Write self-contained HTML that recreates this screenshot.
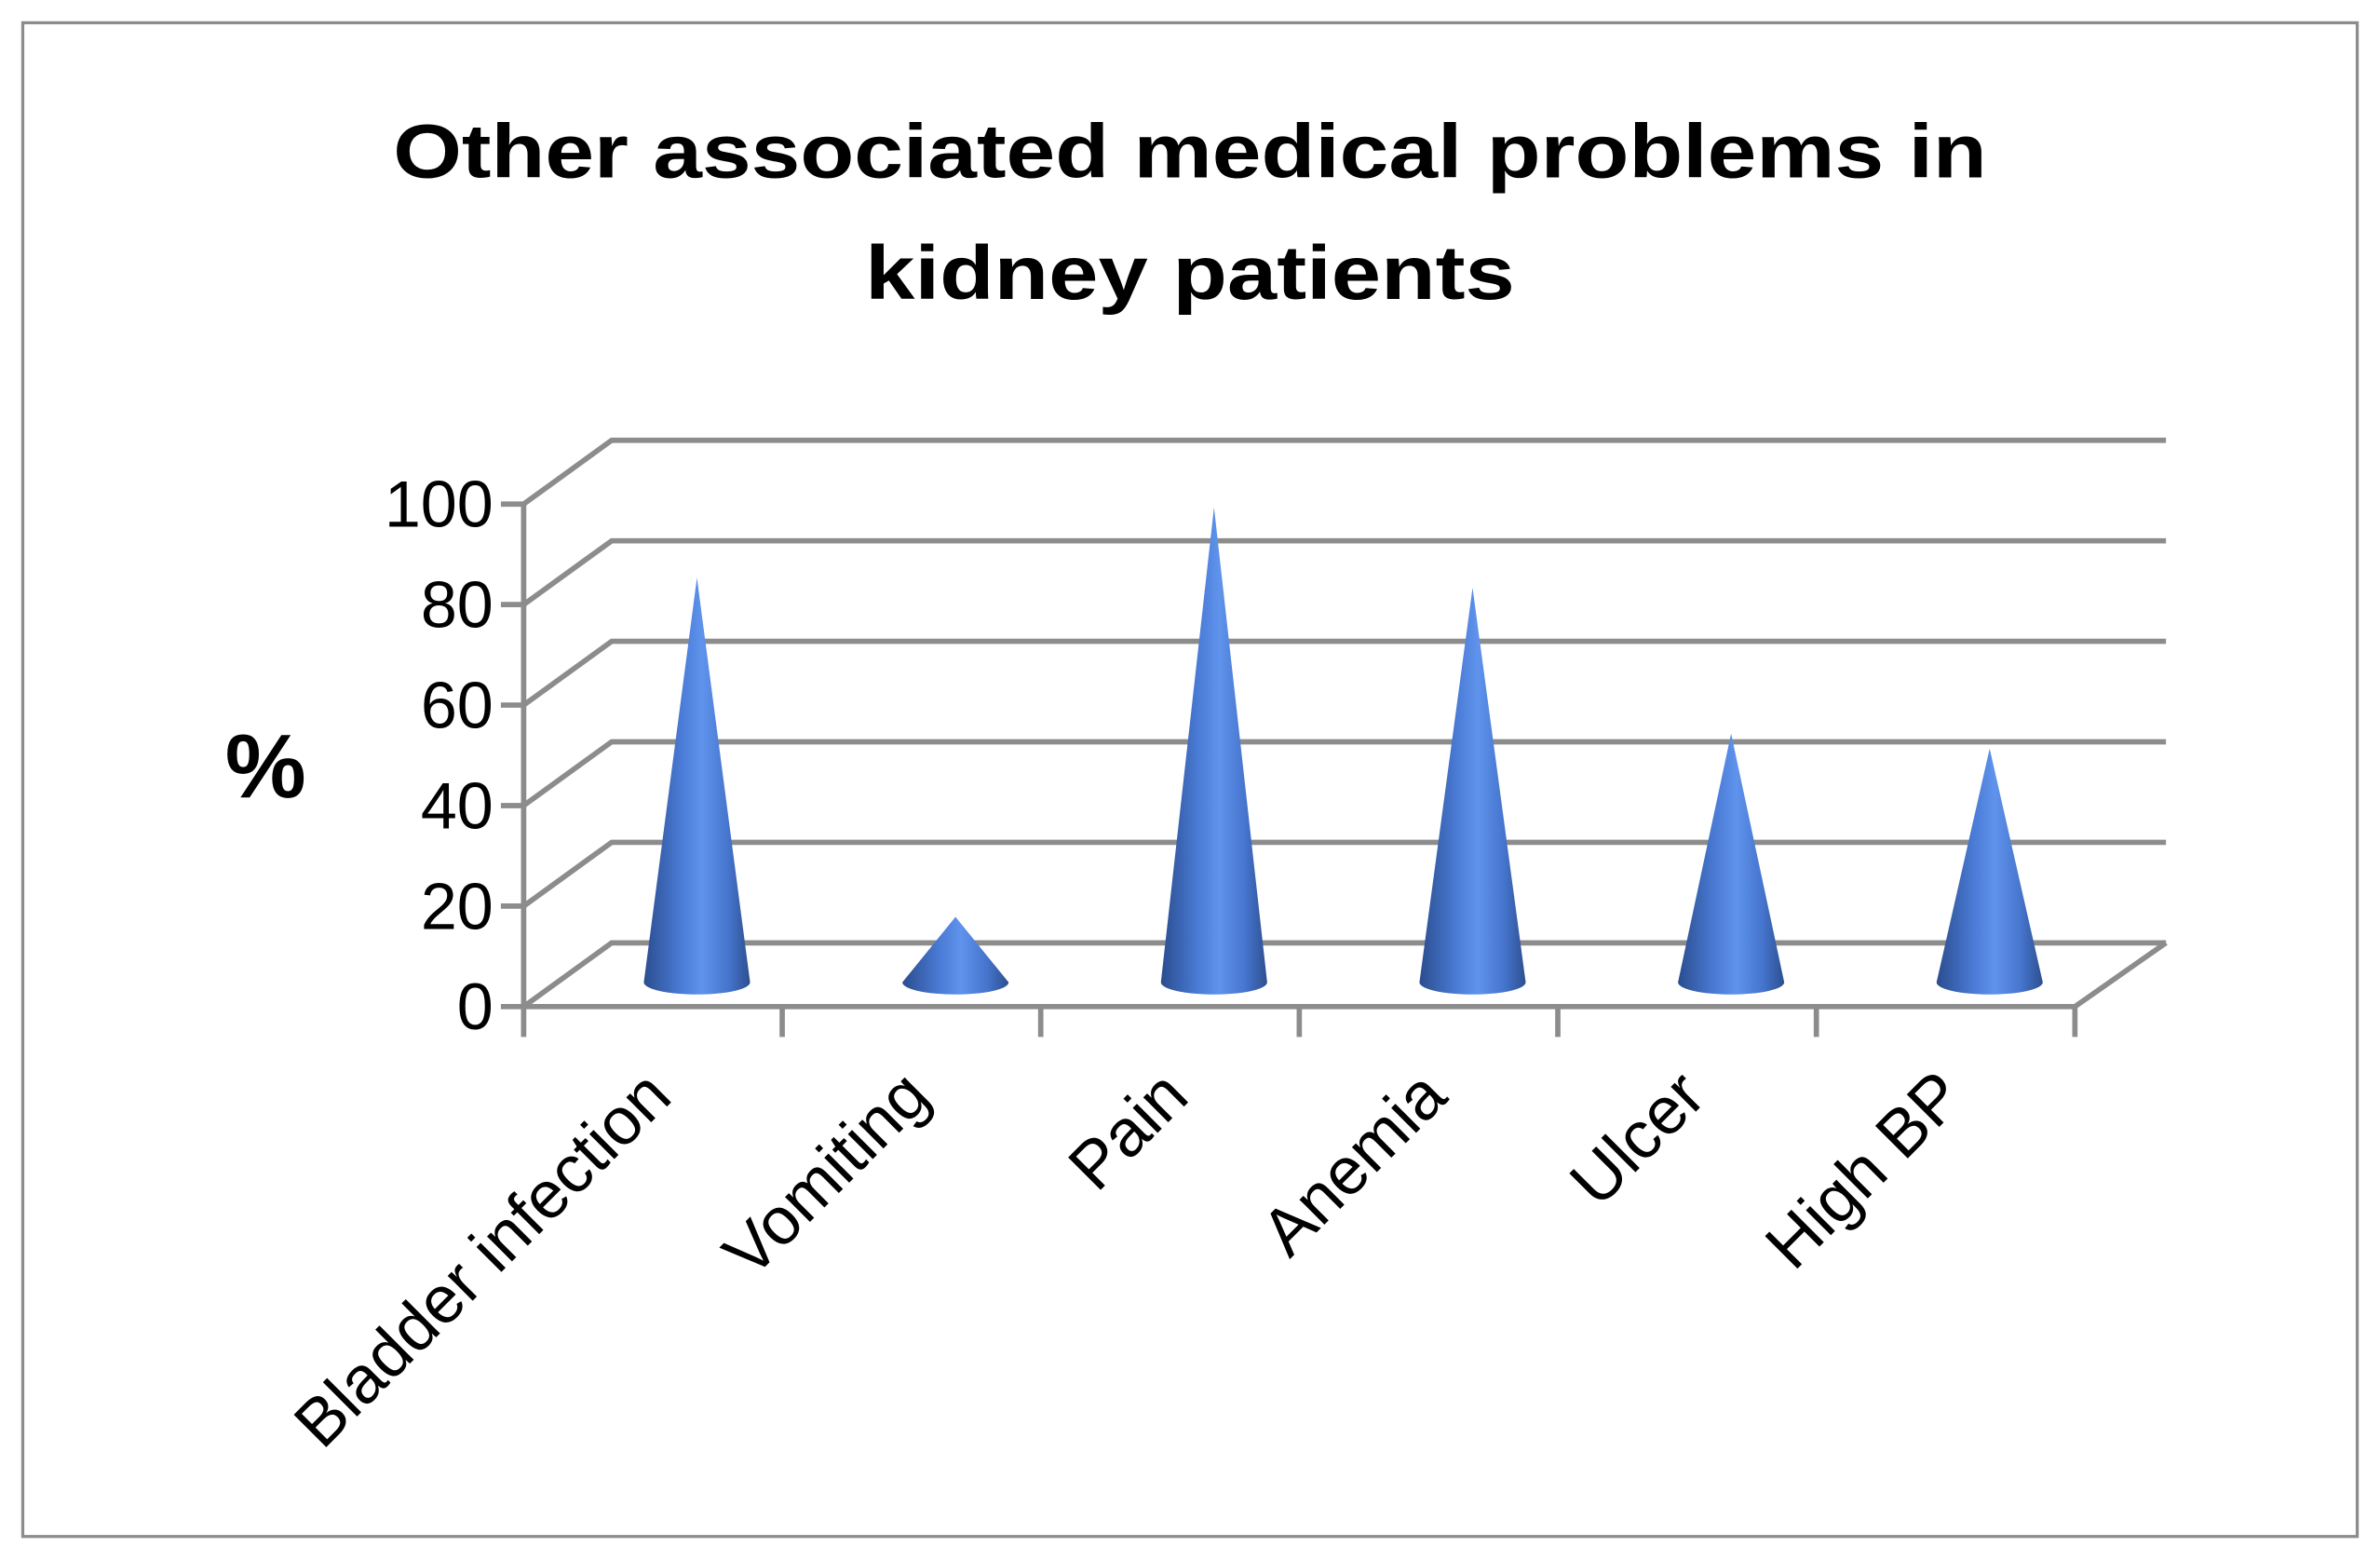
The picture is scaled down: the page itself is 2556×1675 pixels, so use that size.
<!DOCTYPE html>
<html><head><meta charset="utf-8"><style>html,body{margin:0;padding:0;background:#fff}svg{display:block}</style></head>
<body>
<svg id="chart" width="2556" height="1675" viewBox="0 0 1568 1027.5" preserveAspectRatio="none" xmlns="http://www.w3.org/2000/svg">
<defs>
<linearGradient id="cg" x1="0" x2="1" y1="0" y2="0">
<stop offset="0" stop-color="#2b4d8e"/><stop offset="0.35" stop-color="#4a7bd6"/><stop offset="0.55" stop-color="#5f93ec"/><stop offset="0.8" stop-color="#4574cc"/><stop offset="1" stop-color="#2d4f90"/>
</linearGradient>
</defs>
<rect x="15" y="15" width="1538" height="997" fill="#fff" stroke="#8c8c8c" stroke-width="2"/>
<text x="784" y="117" text-anchor="middle" font-family="Liberation Sans, sans-serif" font-weight="bold" font-size="50" textLength="1050" lengthAdjust="spacingAndGlyphs">Other associated medical problems in</text>
<text x="784" y="197" text-anchor="middle" font-family="Liberation Sans, sans-serif" font-weight="bold" font-size="50" textLength="428" lengthAdjust="spacingAndGlyphs">kidney patients</text>
<text x="175" y="525" text-anchor="middle" font-family="Liberation Sans, sans-serif" font-weight="bold" font-size="60">%</text>
<g id="grid"></g><g id="axes"></g><g id="cones"></g><g id="labels"></g>
</svg>
<script>
const categories = ["Bladder infection","Vomiting","Pain","Anemia","Ulcer","High BP"];
const values = [79, 11.5, 93, 77, 48, 45];
const yTicks = [0,20,40,60,80,100];
const yMax = 100;

const NS="http://www.w3.org/2000/svg";
const X0=345, X1=1367, Y0=663, PX=3.31, DX=58, DY=-42;
const yS=v=>Y0-v*PX;
const bw=(X1-X0)/categories.length;
const xC=i=>X0+bw*(i+0.5);
function mk(tag,attrs,parent){const e=document.createElementNS(NS,tag);for(const k in attrs)e.setAttribute(k,attrs[k]);parent.appendChild(e);return e;}
const grid=document.getElementById('grid'),axes=document.getElementById('axes'),cones=document.getElementById('cones'),labels=document.getElementById('labels');
const gs={stroke:"#8c8c8c","stroke-width":3.5,fill:"none"};
yTicks.forEach((t,i)=>{
  const y=yS(t);
  const g=mk('polyline',Object.assign({points:`${X0},${y} ${X0+DX},${y+DY} ${X1+DX+2},${y+DY}`},gs),grid);
  
  
  const tk=mk('line',Object.assign({x1:X0-15,y1:y,x2:X0,y2:y},gs),axes);
  
  
  const tl=mk('text',{x:325,y:y+15,"text-anchor":"end","font-family":"Liberation Sans, sans-serif","font-size":43},labels);
  tl.textContent=t;
  
  
});
const ya=mk('line',Object.assign({x1:X0,y1:yS(yMax),x2:X0,y2:Y0},gs),axes);


const fl=mk('polyline',Object.assign({points:`${X0},${Y0} ${X1},${Y0} ${X1+DX+2},${Y0+DY}`},gs),axes);


for(let i=0;i<=categories.length;i++){
  const x=X0+bw*i;
  const t=mk('line',Object.assign({x1:x,y1:Y0,x2:x,y2:Y0+20},gs),axes);
  
  
}
const mid=Y0+DY/2;
values.forEach((v,i)=>{
  const cx=xC(i)+DX/2, by=mid+5, r=35, tip=mid-v*PX;
  const p=mk('path',{d:`M${cx-r},${by} L${cx},${tip} L${cx+r},${by} A${r} 8 0 0 1 ${cx-r},${by} Z`,fill:"url(#cg)"},cones);
  
  
  const tx=xC(i)+14, ty=724;
  const l=mk('text',{x:tx,y:ty,"text-anchor":"end","font-family":"Liberation Sans, sans-serif","font-size":44,transform:`rotate(-45 ${tx} ${ty})`},labels);
  l.textContent=categories[i];
  
  
});
</script>
</body></html>
